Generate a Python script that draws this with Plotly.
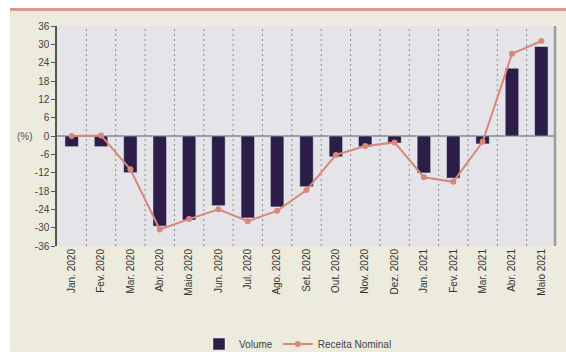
import plotly.graph_objects as go

# Monthly categories
months = ["Jan. 2020", "Fev. 2020", "Mar. 2020", "Abr. 2020", "Maio 2020", "Jun. 2020",
          "Jul. 2020", "Ago. 2020", "Set. 2020", "Out. 2020", "Nov. 2020", "Dez. 2020",
          "Jan. 2021", "Fev. 2021", "Mar. 2021", "Abr. 2021", "Maio 2021"]

# Year-on-year change (%)
volume = [-3.5, -3.5, -12.0, -29.5, -27.5, -22.8, -26.8, -23.2, -16.6, -6.8, -3.5, -2.3,
          -12.1, -13.8, -2.6, 22.2, 29.3]
receita_nominal = [0.0, 0.2, -10.9, -30.6, -27.2, -24.0, -27.9, -24.5, -17.7, -6.2, -3.3, -2.1,
                   -13.5, -15.0, -1.9, 26.9, 31.1]

y_ticks = list(range(-36, 37, 6))
y_tick_text = [str(v) for v in y_ticks]

BAR = "#2c1e48"
LINE = "#d8887a"
PAPER = "#ecebdd"
PLOT = "#e5e5e9"

W, H = 566, 355
L, R, T, B = 57, 10, 26, 109
pw, ph = W - L - R, H - T - B


def px(xp):
    return (xp - L) / pw


def py(yp):
    return (H - B - yp) / ph


fig = go.Figure()
fig.add_trace(go.Bar(x=months, y=volume, name="Volume", marker_color=BAR, width=0.46))
fig.add_trace(go.Scatter(x=months, y=receita_nominal, name="Receita Nominal",
                         mode="lines+markers", line=dict(color=LINE, width=2),
                         marker=dict(color=LINE, size=6)))

shapes = []
# dotted separators between months
for i in range(len(months) - 1):
    shapes.append(dict(type="line", xref="x", yref="y", x0=i + 0.5, x1=i + 0.5,
                       y0=-36, y1=36, line=dict(color="#8a8a8a", width=1, dash="2px,3px"),
                       layer="below"))
# zero line
shapes.append(dict(type="line", xref="paper", yref="y", x0=0, x1=1, y0=0, y1=0,
                   line=dict(color="#85858d", width=1.5), layer="below"))
# right frame line
shapes.append(dict(type="line", xref="paper", yref="paper", x0=1 - 1 / pw, x1=1 - 1 / pw,
                   y0=0, y1=1, line=dict(color="#9a9aa2", width=2.5)))
# white margins and red top rule around the panel
shapes.append(dict(type="rect", xref="paper", yref="paper", x0=px(0), x1=px(10),
                   y0=py(H), y1=py(0), fillcolor="white", line_width=0))
shapes.append(dict(type="rect", xref="paper", yref="paper", x0=px(0), x1=px(W),
                   y0=py(8), y1=py(0), fillcolor="white", line_width=0))
shapes.append(dict(type="rect", xref="paper", yref="paper", x0=px(10), x1=px(W),
                   y0=py(11), y1=py(8), fillcolor="#d99890", line_width=0))
shapes.append(dict(type="rect", xref="paper", yref="paper", x0=px(0), x1=px(W),
                   y0=py(H), y1=py(352), fillcolor="white", line_width=0))

fig.update_layout(
    width=W, height=H,
    margin=dict(l=L, r=R, t=T, b=B, autoexpand=False),
    paper_bgcolor=PAPER, plot_bgcolor=PLOT,
    font=dict(family="Liberation Sans, Arial, sans-serif", color="#444"),
    showlegend=True,
    legend=dict(orientation="h", x=px(298), xanchor="center", y=py(344), yanchor="middle",
                font=dict(size=10, color="#444"), bgcolor="rgba(0,0,0,0)",
                itemwidth=30, tracegroupgap=0),
    shapes=shapes,
    annotations=[dict(text="(%)", xref="paper", yref="y", x=px(25), y=0, showarrow=False,
                      font=dict(size=10, color="#555"), xanchor="center", yanchor="middle")],
)
fig.update_xaxes(type="category", range=[-0.5, len(months) - 0.5], tickangle=-90,
                 showgrid=False, showline=False, ticks="", zeroline=False,
                 tickfont=dict(size=10, color="#333"))
fig.update_yaxes(range=[-36, 36], tickvals=y_ticks, ticktext=y_tick_text,
                 showgrid=False, zeroline=False, showline=True, linecolor="#555", linewidth=1.5,
                 ticks="outside", ticklen=4, tickcolor="#555",
                 tickfont=dict(size=10, color="#444"))

fig.write_html("out.html")
